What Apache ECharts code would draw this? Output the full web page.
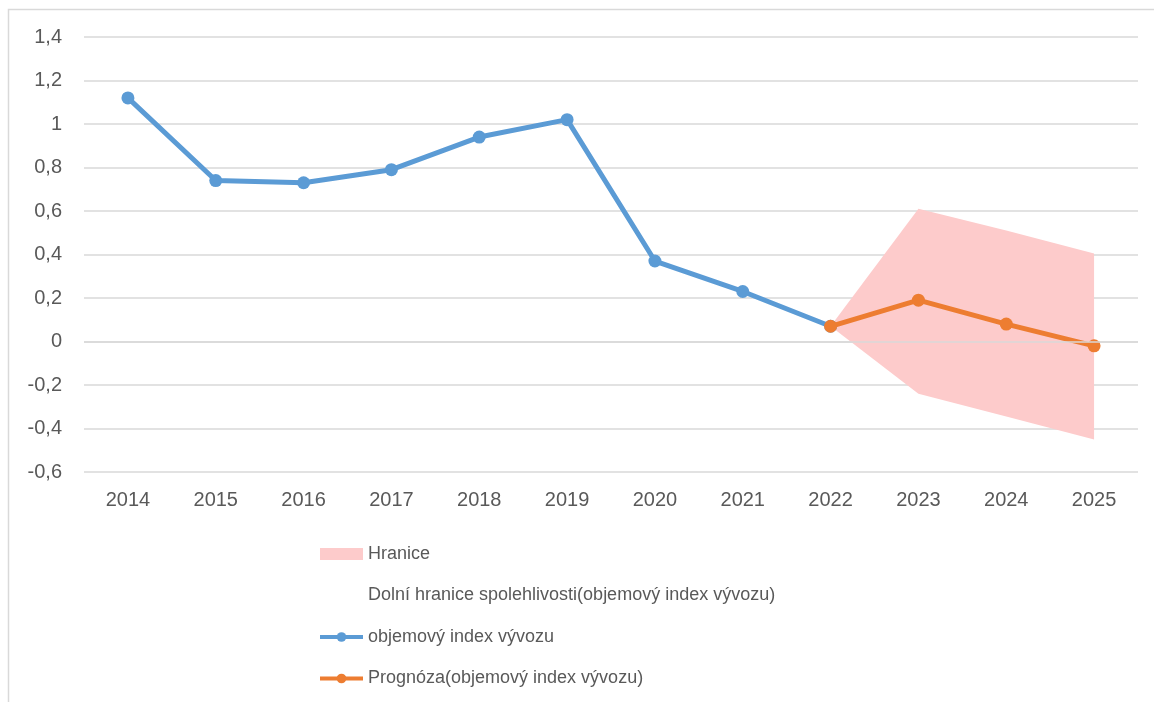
<!DOCTYPE html>
<html>
<head>
<meta charset="utf-8">
<script src="https://cdn.jsdelivr.net/npm/echarts@6/dist/echarts.min.js"></script>
<style>
  html, body { margin: 0; padding: 0; background: #fff; }
  #chart { width: 1154px; height: 702px; }
</style>
</head>
<body>
<div id="chart"></div>
<script>
const years = ['2014', '2015', '2016', '2017', '2018', '2019', '2020', '2021', '2022', '2023', '2024', '2025']
// objemový index vývozu (skutečnost)
const actual = [1.12, 0.74, 0.73, 0.79, 0.94, 1.02, 0.37, 0.23, 0.07, null, null, null]
// prognóza
const forecast = [null, null, null, null, null, null, null, null, 0.07, 0.19, 0.08, -0.02]
// hranice spolehlivosti
const lower = [null, null, null, null, null, null, null, null, 0.07, -0.24, -0.345, -0.45]
const upper = [null, null, null, null, null, null, null, null, 0.07, 0.61, 0.51, 0.405]

const bandWidth = upper.map((u, i) => (u == null ? null : +(u - lower[i]).toFixed(3)))

const nameBand = 'Hranice'
const nameLower = 'Dolní hranice spolehlivosti(objemový index vývozu)'
const nameActual = 'objemový index vývozu'
const nameForecast = 'Prognóza(objemový index vývozu)'

const textColor = '#595959'
const font = 'Liberation Sans'

const myEcharts = echarts.init(document.getElementById('chart'))
myEcharts.setOption({
  animation: false,
  textStyle: { fontFamily: font },
  graphic: [{
    type: 'rect',
    shape: { x: 8.5, y: 9.5, width: 1300, height: 900 },
    style: { fill: 'none', stroke: '#d9d9d9', lineWidth: 1.5 },
    silent: true
  }],
  grid: { left: 84, right: 16, top: 37, bottom: 230 },
  legend: {
    orient: 'vertical',
    left: 318,
    top: 545,
    padding: 0,
    itemWidth: 43,
    itemHeight: 12,
    itemGap: 23.5,
    textStyle: { color: textColor, fontSize: 18, fontFamily: font },
    data: [
      { name: nameBand, icon: 'rect', itemStyle: { color: '#fdcbcb' } },
      { name: nameLower, icon: 'rect', itemStyle: { opacity: 0 } },
      { name: nameActual, lineStyle: { width: 4 } },
      { name: nameForecast, lineStyle: { width: 4 } }
    ]
  },
  xAxis: {
    type: 'category',
    data: years,
    boundaryGap: true,
    axisLine: { show: false },
    axisTick: { show: false },
    axisLabel: { color: textColor, fontSize: 20, margin: 18 }
  },
  yAxis: {
    type: 'value',
    min: -0.6,
    max: 1.4,
    interval: 0.2,
    axisLine: { show: false },
    axisTick: { show: false },
    splitLine: { lineStyle: { color: '#d9d9d9', width: 1.5 } },
    axisLabel: {
      color: textColor,
      fontSize: 20,
      margin: 22,
      formatter: v => String(+v.toFixed(1)).replace('.', ',')
    }
  },
  series: [
    {
      name: nameLower,
      type: 'line',
      stack: 'band',
      stackStrategy: 'all',
      data: lower,
      symbol: 'none',
      lineStyle: { opacity: 0 },
      itemStyle: { color: 'transparent' },
      z: 1
    },
    {
      name: nameBand,
      type: 'line',
      stack: 'band',
      stackStrategy: 'all',
      data: bandWidth,
      symbol: 'none',
      lineStyle: { opacity: 0 },
      itemStyle: { color: '#fdcbcb' },
      areaStyle: { color: '#fdcbcb', opacity: 1 },
      z: 1
    },
    {
      name: nameActual,
      type: 'line',
      data: actual,
      symbol: 'circle',
      symbolSize: 13,
      lineStyle: { color: '#5b9bd5', width: 5 },
      itemStyle: { color: '#5b9bd5' },
      z: 3,
      markLine: {
        silent: true,
        symbol: 'none',
        label: { show: false },
        lineStyle: { color: '#d9d9d9', width: 1.5, type: 'solid' },
        data: [{ yAxis: 0 }]
      }
    },
    {
      name: nameForecast,
      type: 'line',
      data: forecast,
      symbol: 'circle',
      symbolSize: 13,
      lineStyle: { color: '#ed7d31', width: 5 },
      itemStyle: { color: '#ed7d31' },
      z: 4
    }
  ]
})
</script>
</body>
</html>
